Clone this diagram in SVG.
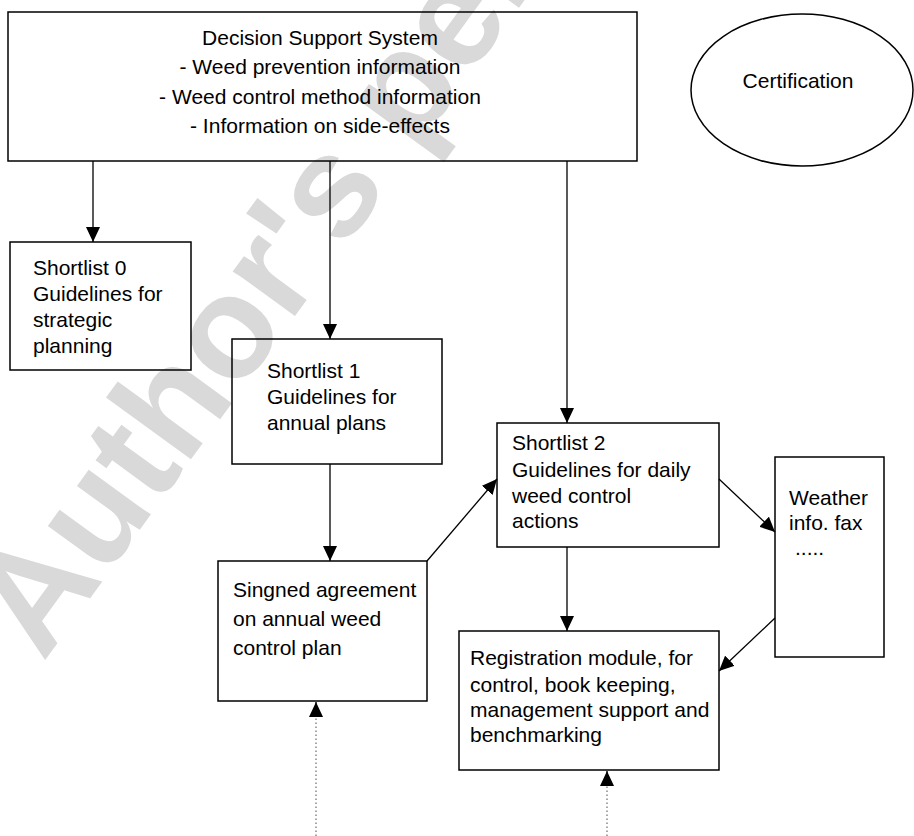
<svg xmlns="http://www.w3.org/2000/svg" width="914" height="836" viewBox="0 0 914 836">
<style>
.box{fill:none;stroke:#000;stroke-width:1.5}
.t{font-family:"Liberation Sans",Arial,sans-serif;font-size:21px;fill:#000}
.c{text-anchor:middle}
.ln{fill:none;stroke:#000;stroke-width:1.3}
.dot{fill:none;stroke:#777;stroke-width:1.3;stroke-dasharray:1.5,2.5}
.wm{font-family:"Liberation Sans",Arial,sans-serif;font-size:145px;font-weight:bold;fill:#d9d9d9}
</style>
<defs>
<marker id="ah" markerUnits="userSpaceOnUse" markerWidth="15" markerHeight="14" refX="15" refY="7" orient="auto" viewBox="0 0 15 14">
<path d="M0,0 L15,7 L0,14 z" fill="#000"/>
</marker>
</defs>
<rect width="914" height="836" fill="#fff"/>
<text class="wm" transform="translate(43,663) rotate(-54)">Author's personal copy</text>

<g id="connectors">
<line class="ln" x1="93" y1="161" x2="93" y2="242" marker-end="url(#ah)"/>
<line class="ln" x1="330" y1="161" x2="330" y2="339" marker-end="url(#ah)"/>
<line class="ln" x1="567" y1="161" x2="567" y2="423" marker-end="url(#ah)"/>
<line class="ln" x1="330" y1="464" x2="330" y2="561" marker-end="url(#ah)"/>
<line class="ln" x1="427" y1="561" x2="497" y2="479" marker-end="url(#ah)"/>
<line class="ln" x1="719" y1="479" x2="775" y2="532" marker-end="url(#ah)"/>
<line class="ln" x1="567" y1="547" x2="567" y2="631" marker-end="url(#ah)"/>
<line class="ln" x1="775" y1="618" x2="719" y2="671" marker-end="url(#ah)"/>
<line class="dot" x1="316" y1="836" x2="316" y2="715"/>
<line class="ln" x1="316" y1="716" x2="316" y2="702" marker-end="url(#ah)" stroke="none"/>
<line class="dot" x1="607" y1="836" x2="607" y2="784"/>
<line class="ln" x1="607" y1="785" x2="607" y2="771" marker-end="url(#ah)" stroke="none"/>
</g>

<g id="dss">
<rect class="box" x="8" y="12" width="629" height="149"/>
<text class="t c" x="320" y="45">Decision Support System</text>
<text class="t c" x="320" y="74">- Weed prevention information</text>
<text class="t c" x="320" y="104">- Weed control method information</text>
<text class="t c" x="320" y="133">- Information on side-effects</text>
</g>

<g id="certification">
<ellipse class="box" cx="802" cy="90" rx="111" ry="76"/>
<text class="t c" x="798" y="88">Certification</text>
</g>

<g id="shortlist0">
<rect class="box" x="10" y="242" width="181" height="128"/>
<text class="t" x="33" y="275">Shortlist 0</text>
<text class="t" x="33" y="301">Guidelines for</text>
<text class="t" x="33" y="327">strategic</text>
<text class="t" x="33" y="353">planning</text>
</g>

<g id="shortlist1">
<rect class="box" x="232" y="339" width="210" height="125"/>
<text class="t" x="267" y="378">Shortlist 1</text>
<text class="t" x="267" y="404">Guidelines for</text>
<text class="t" x="267" y="430">annual plans</text>
</g>

<g id="agreement">
<rect class="box" x="218" y="561" width="209" height="140"/>
<text class="t" x="233" y="597">Singned agreement</text>
<text class="t" x="233" y="626">on annual weed</text>
<text class="t" x="233" y="655">control plan</text>
</g>

<g id="shortlist2">
<rect class="box" x="497" y="423" width="222" height="124"/>
<text class="t" x="512" y="450">Shortlist 2</text>
<text class="t" x="512" y="477">Guidelines for daily</text>
<text class="t" x="512" y="503">weed control</text>
<text class="t" x="512" y="528">actions</text>
</g>

<g id="weather">
<rect class="box" x="775" y="457" width="109" height="200"/>
<text class="t" x="789" y="505">Weather</text>
<text class="t" x="789" y="530">info. fax</text>
<text class="t" x="795" y="555">.....</text>
</g>

<g id="registration">
<rect class="box" x="459" y="631" width="260" height="139"/>
<text class="t" x="470" y="665">Registration module, for</text>
<text class="t" x="470" y="692">control, book keeping,</text>
<text class="t" x="470" y="717">management support and</text>
<text class="t" x="470" y="742">benchmarking</text>
</g>
</svg>
